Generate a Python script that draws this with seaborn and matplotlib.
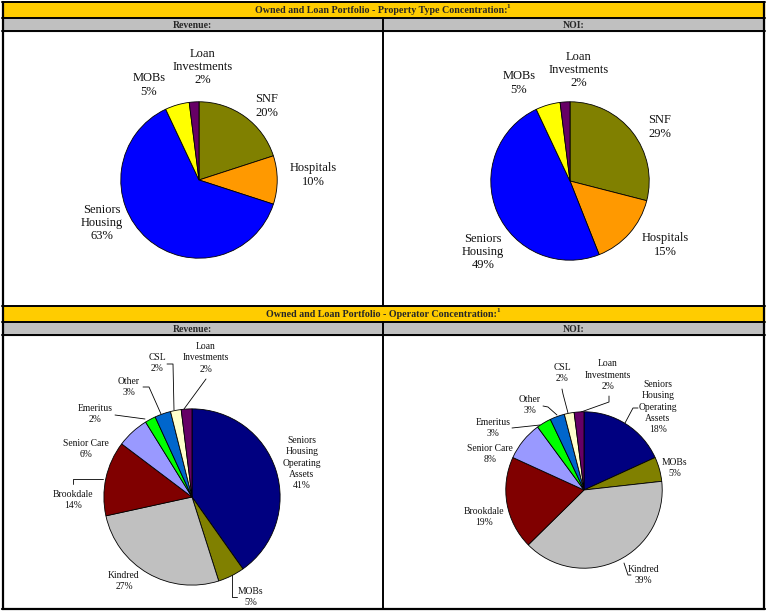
import matplotlib
matplotlib.use("Agg")
import matplotlib.pyplot as plt
import seaborn as sns

sns.set_theme(style="white")
plt.rcParams['font.family'] = ['Liberation Serif', 'DejaVu Serif']

# Property type concentration (%)
prop_labels = ['SNF', 'Hospitals', 'Seniors\nHousing', 'MOBs', 'Loan\nInvestments']
prop_revenue = [20, 10, 63, 5, 2]
prop_noi = [29, 15, 49, 5, 2]
prop_colors = ['#808000', '#FF9900', '#0000FF', '#FFFF00', '#660066']

# Operator concentration (%)
op_labels = ['Seniors\nHousing\nOperating\nAssets', 'MOBs', 'Kindred', 'Brookdale',
             'Senior Care', 'Emeritus', 'Other', 'CSL', 'Loan\nInvestments']
op_revenue = [41, 5, 27, 14, 6, 2, 3, 2, 2]
op_noi = [18, 5, 39, 19, 8, 3, 3, 2, 2]
op_colors = ['#000080', '#808000', '#C0C0C0', '#800000', '#9999FF',
             '#00FF00', '#0066CC', '#FFFFCC', '#660066']

W, H = 767, 612
GOLD, GREY = '#FFCC00', '#C0C0C0'

fig = plt.figure(figsize=(W / 100, H / 100), dpi=100)
bg = fig.add_axes([0, 0, 1, 1])
bg.set_xlim(0, W)
bg.set_ylim(H, 0)
bg.axis('off')

# table frame: gold header, grey sub header, two cells per section
for top in (2, 306):
    bg.add_patch(plt.Rectangle((3, top), W - 6, 16, color=GOLD, zorder=0))
    bg.add_patch(plt.Rectangle((3, top + 16), W - 6, 13, color=GREY, zorder=0))
    for y in (top, top + 16, top + 29):
        bg.plot([2, W - 2], [y, y], color='black', lw=1.4)
    bg.plot([383, 383], [top + 16, top + 304 if top == 2 else 609], color='black', lw=1.4)
bg.plot([2, W - 2], [609, 609], color='black', lw=1.6)
bg.plot([3, 3], [2, 609], color='black', lw=1.6)
bg.plot([W - 3, W - 3], [2, 609], color='black', lw=1.6)

titles = ['Owned and Loan Portfolio - Property Type Concentration:',
          'Owned and Loan Portfolio - Operator Concentration:']
head_txt = []
for top, t in zip((2, 306), titles):
    head_txt.append(bg.text(381, top + 8.5, t, ha='center', va='center',
                            fontsize=7.2, fontweight='bold'))
    bg.text(192, top + 23, 'Revenue:', ha='center', va='center', fontsize=7, fontweight='bold')
    bg.text(574, top + 23, 'NOI:', ha='center', va='center', fontsize=7, fontweight='bold')

fig.canvas.draw()
renderer = fig.canvas.get_renderer()
inv = bg.transData.inverted()
for txt, top in zip(head_txt, (2, 306)):
    bb = txt.get_window_extent(renderer)
    x1 = inv.transform((bb.x1, bb.y1))[0]
    bg.text(x1 - 0.5, top + 5, '1', ha='left', va='center', fontsize=5, fontweight='bold')


def draw_pie(values, colors, cx, cy, r):
    ax = fig.add_axes([(cx - r) / W, 1 - (cy + r) / H, 2 * r / W, 2 * r / H])
    ax.pie(values, colors=colors, startangle=90, counterclock=False,
           wedgeprops=dict(edgecolor='black', linewidth=0.6))
    ax.set_xlim(-1.01, 1.01)
    ax.set_ylim(-1.01, 1.01)
    ax.axis('off')
    return ax


draw_pie(prop_revenue, prop_colors, 199, 180, 79)
draw_pie(prop_noi, prop_colors, 570, 181, 80)
draw_pie(op_revenue, op_colors, 192, 497, 89)
draw_pie(op_noi, op_colors, 584, 490, 79)

# label positions in pixels
prop_rev_pos = [(267, 106), (313, 175), (102, 223), (149, 85), (203, 67)]
prop_noi_pos = [(660, 127), (665, 245), (483, 252), (519, 83), (579, 70)]
op_rev_pos = [(302, 463), (251, 597), (124, 581), (73, 500), (86, 449),
              (95, 414), (129, 387), (157, 363), (206, 358)]
op_noi_pos = [(658, 407), (675, 468), (643, 575), (484, 517), (490, 454),
              (493, 428), (530, 405), (562, 373), (608, 375)]

for labels, vals, pos in ((prop_labels, prop_revenue, prop_rev_pos),
                          (prop_labels, prop_noi, prop_noi_pos)):
    for lab, v, (x, y) in zip(labels, vals, pos):
        bg.text(x, y, f'{lab}\n{v}%', ha='center', va='center', fontsize=9,
                linespacing=1.15, color='#111111')

for labels, vals, pos in ((op_labels, op_revenue, op_rev_pos),
                          (op_labels, op_noi, op_noi_pos)):
    for lab, v, (x, y) in zip(labels, vals, pos):
        bg.text(x, y, f'{lab}\n{v}%', ha='center', va='center', fontsize=6.9,
                linespacing=1.3, color='#111111')

# leader lines
leaders = [
    [(232, 572), (232, 597), (237, 597)],
    [(73, 484), (73, 479), (103, 479)],
    [(115, 415), (145, 419)],
    [(143, 387), (149, 387), (161, 414)],
    [(167, 364), (173, 364), (174, 410)],
    [(206, 379), (184, 409)],
    [(638, 408), (633, 408), (625, 423)],
    [(624, 563), (628, 575), (631, 575)],
    [(512, 428), (540, 425)],
    [(543, 406), (548, 407), (557, 415)],
    [(562, 389), (563, 394), (568, 413)],
    [(609, 396), (609, 402), (581, 412)],
]
for pts in leaders:
    xs, ys = zip(*pts)
    bg.plot(xs, ys, color='black', lw=0.6)

fig.savefig('out.png', dpi=100)
